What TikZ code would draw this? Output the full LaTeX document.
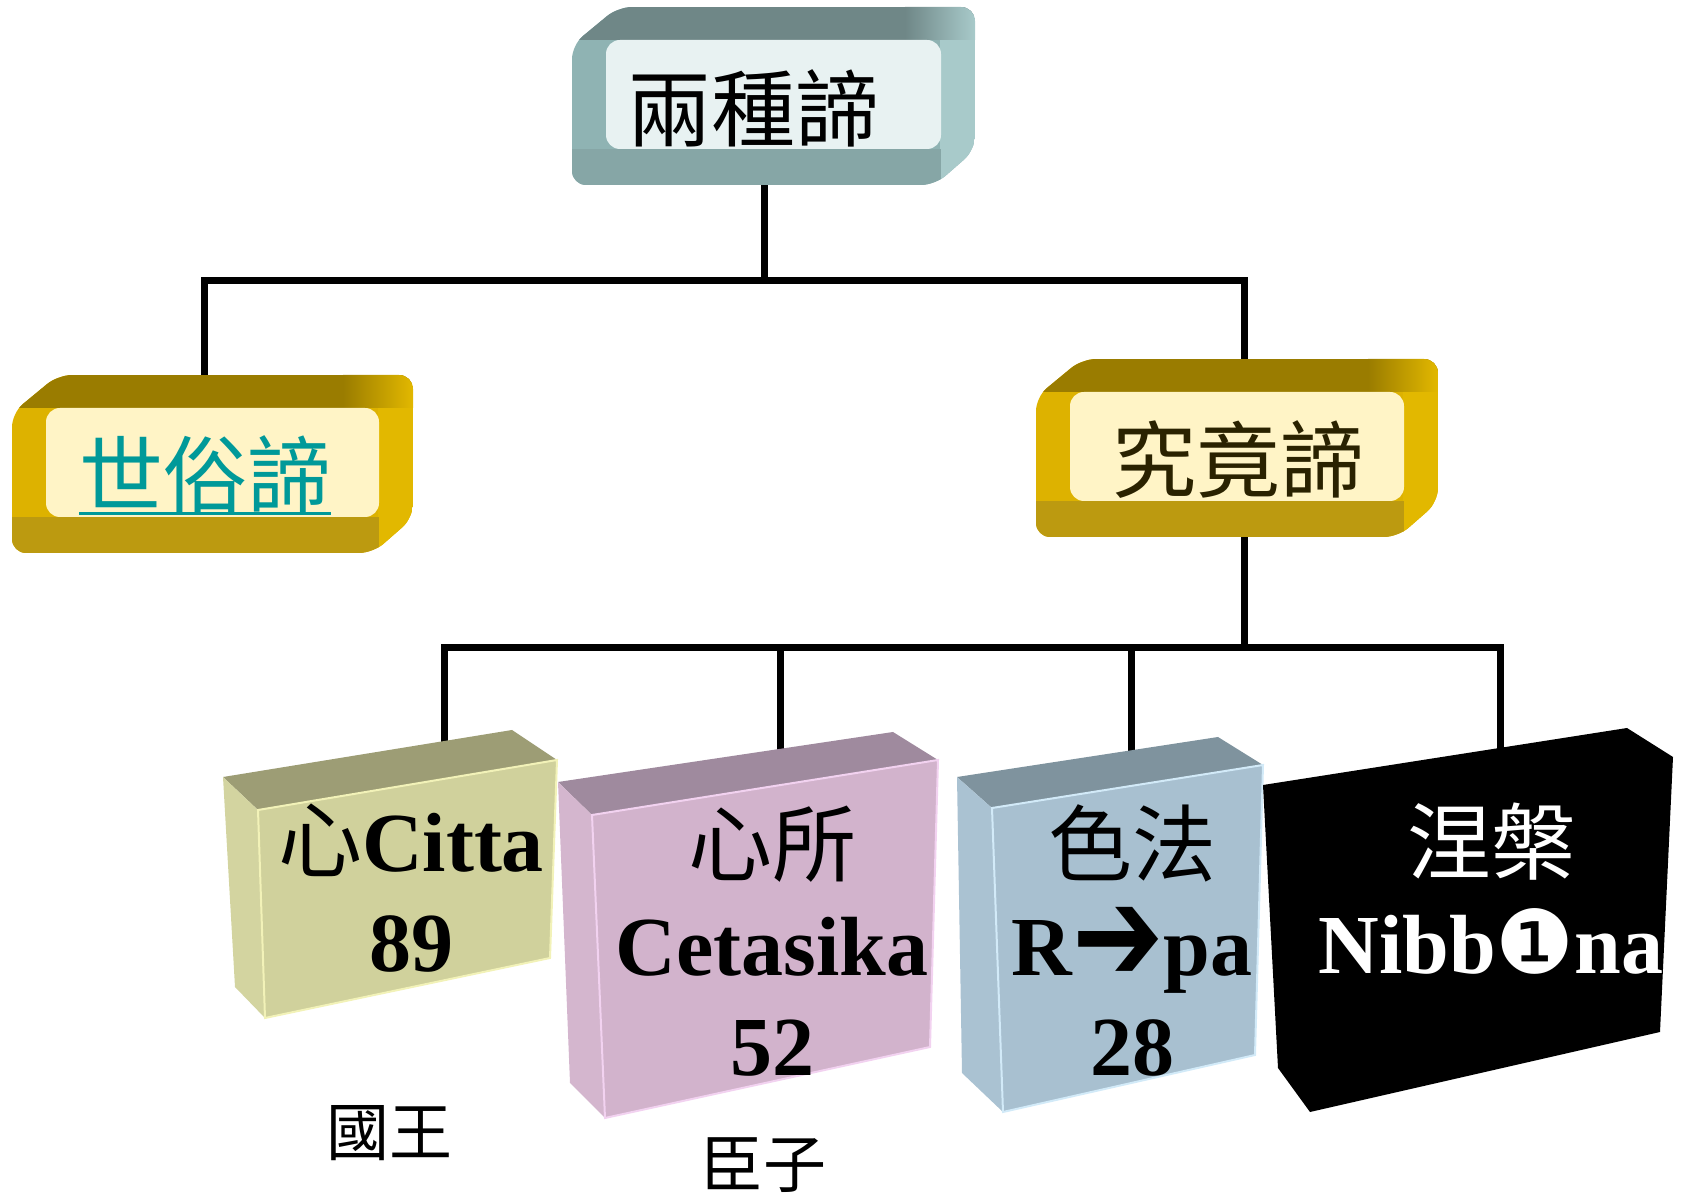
\documentclass[tikz,border=0pt]{standalone}
\usepackage{fontspec}
\setmainfont{Liberation Serif}
\newfontfamily\cjk{Noto Sans CJK TC}
\newfontfamily\dv{DejaVu Sans}
\definecolor{tealT}{HTML}{6F8787}
\definecolor{tealL}{HTML}{8FB3B3}
\definecolor{tealR}{HTML}{A8CACA}
\definecolor{tealB}{HTML}{86A6A6}
\definecolor{tealF}{HTML}{E8F2F2}
\definecolor{goldT}{HTML}{9A7C00}
\definecolor{goldL}{HTML}{DDB200}
\definecolor{goldR}{HTML}{E2B800}
\definecolor{goldB}{HTML}{BC9A10}
\definecolor{goldF}{HTML}{FFF4C6}
\definecolor{ulteal}{HTML}{009999}
\definecolor{darkol}{HTML}{2A2200}
\definecolor{khF}{HTML}{D0D19C}
\definecolor{khT}{HTML}{9D9D75}
\definecolor{khL}{HTML}{D3D4A0}
\definecolor{khE}{HTML}{F2F2B8}
\definecolor{piF}{HTML}{D2B3CC}
\definecolor{piT}{HTML}{9F8A9E}
\definecolor{piL}{HTML}{D4B6CE}
\definecolor{piE}{HTML}{F2D2F0}
\definecolor{blF}{HTML}{A8C0D0}
\definecolor{blT}{HTML}{7F939E}
\definecolor{blL}{HTML}{AAC2D2}
\definecolor{blE}{HTML}{D2EAF8}
\newcommand\bevbox[5]{%
  \begin{scope}
    \clip[rounded corners=7pt] (#1,#2+38) -- (#1+46,#2) -- (#3,#2) -- (#3,#4-35) -- (#3-40,#4) -- (#1,#4) -- cycle;
    \fill[#5L] (#1,#2) rectangle (#3,#4);
    \fill[#5T] (#1,#2) rectangle (#3,#2+33);
    \shade[left color=#5T,right color=#5R] (#3-70,#2) rectangle (#3,#2+33);
    \fill[#5R] (#3-35,#2+33) rectangle (#3,#4);
    \fill[#5B] (#1,#4-36) rectangle (#3-34,#4);
    \fill[#5F,rounded corners=7pt] (#1+34,#2+33) rectangle (#3-34,#4-36);
  \end{scope}}
\newcommand\myul[1]{\setbox0\hbox{#1}\rlap{\rule[\dimexpr-\dp0-0.6pt\relax]{\wd0}{1.6pt}}\box0}
\newcommand\heavyarrow{\raisebox{-3pt}{\scalebox{1.3}[1.6]{\dv\mdseries ➔}}}
\tikzset{
  conn/.style={line width=3.5pt},
  cjktxt/.style={inner sep=0pt,font=\cjk\fontsize{42}{50}\selectfont},
  bt/.style={align=center,inner sep=0pt,font=\fontsize{42}{50}\selectfont\bfseries},
  lbl/.style={inner sep=0pt,font=\cjk\fontsize{31.5}{36}\selectfont},
}
\begin{document}
\begin{tikzpicture}[x=0.5pt,y=-0.5pt]
\useasboundingbox (0,0) rectangle (1683,1197);
% connector points
\coordinate (c0) at (764,180);
\coordinate (bus1) at (764,281);
\coordinate (c1) at (204,378);
\coordinate (c2) at (1244,362);
\coordinate (c2s) at (1244,530);
\coordinate (bus2) at (1244,648);
\coordinate (d1) at (444,745);
\coordinate (d2) at (780,751);
\coordinate (d3) at (1131,755);
\coordinate (d4) at (1500,751);
\draw[conn] (c0) -- (bus1) -| (c1);
\draw[conn] (bus1) -| (c2);
\draw[conn] (c2s) -- (bus2) -| (d1);
\draw[conn] (bus2) -| (d2);
\draw[conn] (bus2) -| (d3);
\draw[conn] (bus2) -| (d4);
% bevel boxes
\bevbox{572}{7}{975}{185}{teal}
\bevbox{12}{375}{413}{553}{gold}
\bevbox{1036}{359}{1438}{537}{gold}
\node[cjktxt,anchor=base] (t0) at (753,141) {兩種諦};
\node[cjktxt,anchor=base,text=ulteal] (t1) at (205,507) {\myul{世俗諦}};
\node[cjktxt,anchor=base,text=darkol] (t2) at (1238,492) {究竟諦};
% box 1
\fill[khT] (223,777) -- (512,730) -- (557,760) -- (258,810) -- cycle;
\fill[khL] (223,777) -- (258,810) -- (265,1018) -- (235,987) -- cycle;
\filldraw[fill=khF,draw=khE,line width=1pt] (258,810) -- (557,760) -- (550,958) -- (265,1018) -- cycle;
% box 2
\fill[piT] (558,782) -- (893,732) -- (938,760) -- (592,815) -- cycle;
\fill[piL] (558,782) -- (592,815) -- (605,1118) -- (570,1083) -- cycle;
\filldraw[fill=piF,draw=piE,line width=1pt] (592,815) -- (938,760) -- (930,1047) -- (605,1118) -- cycle;
% box 3
\fill[blT] (957,777) -- (1218,737) -- (1263,765) -- (992,808) -- cycle;
\fill[blL] (957,777) -- (992,808) -- (1003,1112) -- (962,1073) -- cycle;
\filldraw[fill=blF,draw=blE,line width=1pt] (992,808) -- (1263,765) -- (1255,1055) -- (1003,1112) -- cycle;
% box 4
\fill[black] (1263,785) -- (1627,728) -- (1673,757) -- (1660,1032) -- (1310,1112) -- (1278,1068) -- cycle;
% texts
\node[bt] (b1) at (411,888) {{\cjk\mdseries 心}Citta\\89};
\node[bt] (b2) at (772,941) {{\cjk\mdseries 心所}\\Cetasika\\52};
\node[bt] (b3) at (1132,941) {{\cjk\mdseries 色法}\\R\heavyarrow pa\\28};
\node[bt,text=white] (b4) at (1491,889) {{\cjk\mdseries 涅槃}\\Nibb{\dv\mdseries\fontsize{44}{50}\selectfont ❶}na};
\node[lbl] (k1) at (389,1133) {國王};
\node[lbl] (k2) at (763,1165) {臣子};
\end{tikzpicture}
\end{document}
